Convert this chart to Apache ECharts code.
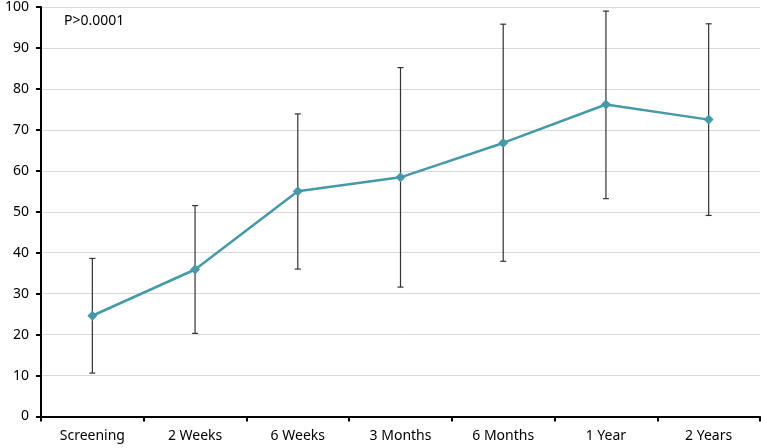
<!DOCTYPE html>
<html><head><meta charset="utf-8">
<script src="https://cdn.jsdelivr.net/npm/echarts@6/dist/echarts.min.js"></script>
<style>html,body{margin:0;padding:0;background:#fff}#c{width:761px;height:448px}</style>
</head><body><div id="c"></div>
<script>
const categories = ['Screening','2 Weeks','6 Weeks','3 Months','6 Months','1 Year','2 Years'];
const means = [24.6, 35.9, 55.0, 58.4, 66.8, 76.2, 72.5];
const upper = [38.6, 51.5, 73.9, 85.2, 95.8, 99.0, 95.9];
const lower = [10.6, 20.3, 36.0, 31.6, 37.9, 53.2, 49.1];
const yTicks = [0,10,20,30,40,50,60,70,80,90,100];
const annotation = 'P>0.0001';

const errData = categories.map((c,i)=>[i, lower[i], upper[i]]);
const chart = echarts.init(document.getElementById('c'));
const font = 'Noto Sans';
chart.setOption({
  animation:false,
  title:{text:annotation,left:59,top:9,textStyle:{fontFamily:font,fontSize:14,fontWeight:'normal',color:'#000'}},
  grid:{left:41,right:1,top:5,bottom:31.5,containLabel:false},
  xAxis:{type:'category',data:categories,boundaryGap:true,
    axisLine:{lineStyle:{color:'#000',width:2}},
    axisTick:{show:true,alignWithLabel:false,length:5,lineStyle:{color:'#000',width:2}},
    axisLabel:{color:'#000',fontFamily:font,fontSize:14,margin:13}},
  yAxis:{type:'value',min:yTicks[0],max:yTicks[yTicks.length-1],interval:10,
    axisLine:{show:true,lineStyle:{color:'#000',width:2}},
    axisTick:{show:true,length:5,lineStyle:{color:'#000',width:2}},
    splitLine:{lineStyle:{color:'#d9d9d9',width:1}},
    axisLabel:{color:'#000',fontFamily:font,fontSize:14,margin:12}},
  series:[
    {type:'custom',z:1,data:errData,
      renderItem:function(params,api){
        const x=api.value(0);
        const lo=api.coord([x,api.value(1)]);
        const hi=api.coord([x,api.value(2)]);
        const cw=3;
        const st={stroke:'#333',lineWidth:1.2};
        return {type:'group',children:[
          {type:'line',shape:{x1:lo[0],y1:lo[1],x2:hi[0],y2:hi[1]},style:st},
          {type:'line',shape:{x1:lo[0]-cw,y1:lo[1],x2:lo[0]+cw,y2:lo[1]},style:st},
          {type:'line',shape:{x1:hi[0]-cw,y1:hi[1],x2:hi[0]+cw,y2:hi[1]},style:st}
        ]};
      }},
    {type:'line',z:3,data:means,symbol:'diamond',symbolSize:10,
      lineStyle:{color:'#4599a9',width:2.5},itemStyle:{color:'#4599a9'}}
  ]
});
</script></body></html>
